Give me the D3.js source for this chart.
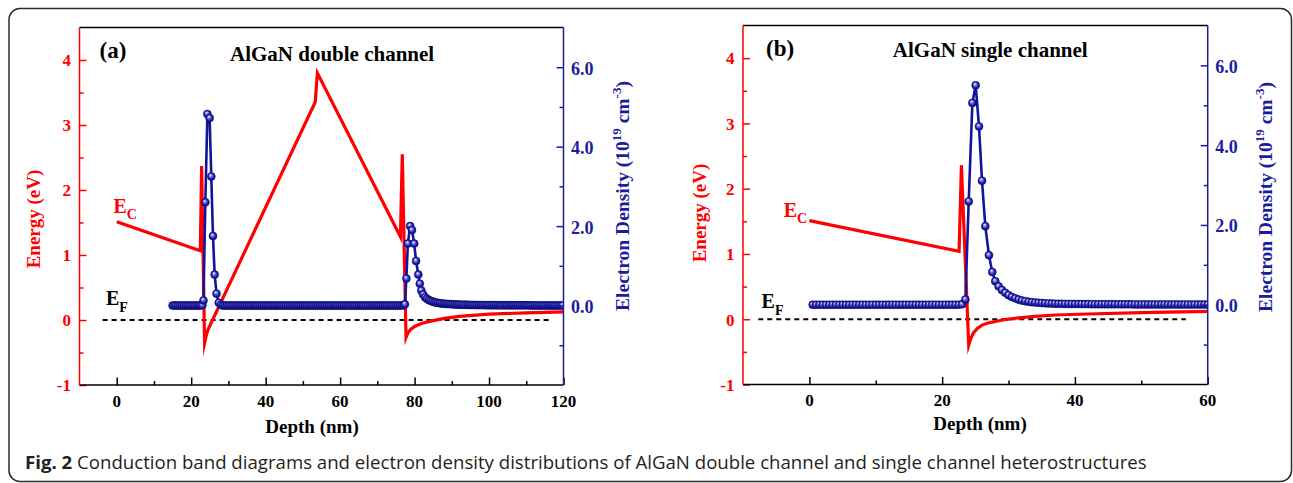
<!DOCTYPE html>
<html><head><meta charset="utf-8">
<script src="https://cdn.jsdelivr.net/npm/d3@7"></script>
<style>body{margin:0;background:#fff} svg{display:block}</style>
</head><body>
<svg id="c" width="1293" height="483"></svg>
<script>
// ---------------- DATA ----------------
const energyTicks = [-1, 0, 1, 2, 3, 4];
const energyMinor = [-0.5, 0.5, 1.5, 2.5, 3.5];
const densityTicks = [0, 2, 4, 6];
const densityTickLabels = ["0.0", "2.0", "4.0", "6.0"];
const densityMinor = [-1, 1, 3, 5];
const depthTicksA = [0, 20, 40, 60, 80, 100, 120];
const depthMinorA = [10, 30, 50, 70, 90, 110];
const depthTicksB = [0, 20, 40, 60];
const depthMinorB = [10, 30, 50];

// conduction band energy (eV) vs depth (nm)
const bandA = [[0,1.51],[22.45,1.065],[22.8,2.37],[23.6,-0.355],[24.0,-0.25],[24.5,-0.15],[53.3,3.35],[53.9,3.80],[76.2,1.28],[76.7,2.55],[77.7,-0.27],[78.2,-0.2],[79,-0.14],[80,-0.1],[82,-0.05],[85,-0.01],[88,0.025],[92,0.055],[100,0.09],[110,0.11],[120,0.125]];
const bandB = [[0,1.51],[22.55,1.04],[22.9,2.36],[24.0,-0.40],[24.3,-0.3],[24.7,-0.21],[25.3,-0.14],[26,-0.09],[27,-0.055],[28,-0.035],[29.5,-0.005],[31,0.015],[34,0.045],[37,0.065],[42,0.08],[50,0.1],[60,0.12]];

// Fermi level
const fermiA = [[-3.8,0],[116.1,0]];
const fermiB = [[-7.7,0],[56.7,0]];

// electron density (1e19 cm^-3) vs depth (nm)
const densityA = [[15,0],[15.5,0],[16,0],[16.5,0],[17,0],[17.5,0],[18,0],[18.5,0],[19,0],[19.5,0],[20,0],[20.5,0],[21,0],[21.5,0],[22,0],[22.5,0],[23,0.01],
[23.3,0.13],[23.8,2.6],[24.35,4.82],[24.95,4.72],[25.4,3.25],[25.85,1.75],[26.3,0.78],[26.8,0.30],[27.4,0.07],[28,0.02],
[28.5,0],[29,0],[29.5,0],[30,0],[30.5,0],[31,0],[31.5,0],[32,0],[32.5,0],[33,0],[33.5,0],[34,0],[34.5,0],[35,0],[35.5,0],[36,0],[36.5,0],[37,0],[37.5,0],[38,0],[38.5,0],[39,0],[39.5,0],[40,0],[40.5,0],[41,0],[41.5,0],[42,0],[42.5,0],[43,0],[43.5,0],[44,0],[44.5,0],[45,0],[45.5,0],[46,0],[46.5,0],[47,0],[47.5,0],[48,0],[48.5,0],[49,0],[49.5,0],[50,0],[50.5,0],[51,0],[51.5,0],[52,0],[52.5,0],[53,0],[53.5,0],[54,0],[54.5,0],[55,0],[55.5,0],[56,0],[56.5,0],[57,0],[57.5,0],[58,0],[58.5,0],[59,0],[59.5,0],[60,0],[60.5,0],[61,0],[61.5,0],[62,0],[62.5,0],[63,0],[63.5,0],[64,0],[64.5,0],[65,0],[65.5,0],[66,0],[66.5,0],[67,0],[67.5,0],[68,0],[68.5,0],[69,0],[69.5,0],[70,0],[70.5,0],[71,0],[71.5,0],[72,0],[72.5,0],[73,0],[73.5,0],[74,0],[74.5,0],[75,0],[75.5,0],[76,0],[76.5,0],[77,0.01],
[77.4,0.03],[77.8,0.68],[78.2,1.56],[78.8,2.0],[79.3,1.9],[79.9,1.56],[80.4,1.12],[81,0.78],[81.4,0.55],[81.8,0.38],[82.3,0.28],[82.8,0.21],[83.3,0.17],[83.8,0.14],[84.3,0.12],[84.8,0.1],[85.3,0.085],[85.8,0.075],[86.3,0.066],[86.8,0.058],[87.3,0.052],[87.8,0.047],[88.3,0.043],[88.8,0.04],[89.3,0.037],[89.8,0.034],[90.3,0.031],[90.8,0.029],[91.3,0.027],[91.8,0.025],[92.3,0.023],[92.8,0.022],[93.3,0.02],[93.8,0.019],[94.3,0.018],[94.8,0.017],[95.3,0.016],[95.8,0.015],[96.3,0.014],[96.8,0.013],[97.3,0.012],[97.8,0.012],[98.3,0.011],[98.8,0.011],[99.3,0.01],[99.8,0.01],[100.3,0.01],[100.8,0.009],[101.3,0.009],[101.8,0.009],[102.3,0.008],[102.8,0.008],[103.3,0.008],[103.8,0.007],[104.3,0.007],[104.8,0.007],[105.3,0.007],[105.8,0.006],[106.3,0.006],[106.8,0.006],[107.3,0.006],[107.8,0.006],[108.3,0.005],[108.8,0.005],[109.3,0.005],[109.8,0.005],[110.3,0.005],[110.8,0.005],[111.3,0.004],[111.8,0.004],[112.3,0.004],[112.8,0.004],[113.3,0.004],[113.8,0.004],[114.3,0.004],[114.8,0.004],[115.3,0.003],[115.8,0.003],[116.3,0.003],[116.8,0.003],[117.3,0.003],[117.8,0.003],[118.3,0.003],[118.8,0.003],[119.3,0.003],[119.8,0.003]];

const densityB = [[0.5,0],[1,0],[1.5,0],[2,0],[2.5,0],[3,0],[3.5,0],[4,0],[4.5,0],[5,0],[5.5,0],[6,0],[6.5,0],[7,0],[7.5,0],[8,0],[8.5,0],[9,0],[9.5,0],[10,0],[10.5,0],[11,0],[11.5,0],[12,0],[12.5,0],[13,0],[13.5,0],[14,0],[14.5,0],[15,0],[15.5,0],[16,0],[16.5,0],[17,0],[17.5,0],[18,0],[18.5,0],[19,0],[19.5,0],[20,0],[20.5,0],[21,0],[21.5,0],[22,0],[22.5,0],[23,0.01],
[23.5,0.13],[24,2.59],[24.55,5.06],[25.05,5.5],[25.55,4.47],[26,3.11],[26.5,1.97],[27.05,1.24],[27.55,0.82],[28,0.59],[28.5,0.46],[29,0.37],[29.5,0.3],[30,0.24],[30.5,0.195],[31,0.16],[31.5,0.13],[32,0.107],[32.5,0.09],[33,0.075],[33.5,0.064],[34,0.055],[34.5,0.048],[35,0.042],[35.5,0.037],[36,0.033],[36.5,0.03],[37,0.027],[37.5,0.025],[38,0.023],[38.5,0.021],[39,0.02],[39.5,0.019],[40,0.018],[40.5,0.017],[41,0.016],[41.5,0.015],[42,0.015],[42.5,0.014],[43,0.013],[43.5,0.013],[44,0.012],[44.5,0.012],[45,0.011],[45.5,0.011],[46,0.01],[46.5,0.01],[47,0.01],[47.5,0.009],[48,0.009],[48.5,0.009],[49,0.008],[49.5,0.008],[50,0.008],[50.5,0.008],[51,0.007],[51.5,0.007],[52,0.007],[52.5,0.007],[53,0.006],[53.5,0.006],[54,0.006],[54.5,0.006],[55,0.006],[55.5,0.005],[56,0.005],[56.5,0.005],[57,0.005],[57.5,0.005],[58,0.005],[58.5,0.005],[59,0.005],[59.5,0.005],[60,0.005]];

const titles = ["AlGaN double channel", "AlGaN single channel"];
const panelLabels = ["(a)", "(b)"];
const captionBold = "Fig. 2";
const captionText = " Conduction band diagrams and electron density distributions of AlGaN double channel and single channel heterostructures";

// ---------------- LAYOUT ----------------
const RED = "#ff0000", BLUE = "#1c1ca0", SERIF = "Liberation Serif, Times New Roman, serif";
const panels = [
  {left:79.5, right:563.5, top:27.5, bottom:385, xDomain:[-10,120], xTicks:depthTicksA, xMinor:depthMinorA,
   band:bandA, dens:densityA, fermi:fermiA, title:titles[0], label:panelLabels[0],
   labelX:99.5, labelY:58, titleX:230, titleY:61, ecX:113.5, ecY:213.3, efX:106, efY:305,
   yTitleX:40, yTitleY:219, y2TitleX:629, y2TitleY:196, xTitleX:312, xTitleY:433},
  {left:743, right:1207.7, top:25.5, bottom:384.5, xDomain:[-10,60], xTicks:depthTicksB, xMinor:depthMinorB,
   band:bandB, dens:densityB, fermi:fermiB, title:titles[1], label:panelLabels[1],
   labelX:766, labelY:56, titleX:892.8, titleY:56.5, ecX:783.7, ecY:216.7, efX:761.6, efY:308.3,
   yTitleX:705.5, yTitleY:213, y2TitleX:1272, y2TitleY:197, xTitleX:980, xTitleY:430}
];

const svg = d3.select("#c");
const defs = svg.append("defs");
const grad = defs.append("radialGradient").attr("id","ball").attr("cx","0.5").attr("cy","0.5").attr("r","0.5").attr("fx","0.38").attr("fy","0.3");
grad.append("stop").attr("offset","0").attr("stop-color","#ffffff");
grad.append("stop").attr("offset","0.3").attr("stop-color","#8c8ce6");
grad.append("stop").attr("offset","0.7").attr("stop-color","#1e1eb0");
grad.append("stop").attr("offset","1").attr("stop-color","#08086e");

// frame
svg.append("rect").attr("x",9).attr("y",8.5).attr("width",1282.5).attr("height",473).attr("rx",11)
  .attr("fill","none").attr("stroke","#2b2b2b").attr("stroke-width",1.5);

panels.forEach((p, i) => {
  const x = d3.scaleLinear().domain(p.xDomain).range([p.left, p.right]);
  const y = d3.scaleLinear().domain([-1, 4.5]).range([p.bottom, p.top]);
  const y2 = d3.scaleLinear().domain([-2, 7]).range([p.bottom, p.top]);
  const g = svg.append("g");

  const clipId = "clip" + i;
  defs.append("clipPath").attr("id", clipId).append("rect")
    .attr("x", p.left).attr("y", p.top).attr("width", p.right - p.left).attr("height", p.bottom - p.top);

  const plot = g.append("g").attr("clip-path", `url(#${clipId})`);
  const line = d3.line().x(d => x(d[0])).y(d => y(d[1]));
  const line2 = d3.line().x(d => x(d[0])).y(d => y2(d[1]));

  plot.append("path").datum(p.fermi).attr("d", line).attr("fill","none").attr("stroke","#000")
    .attr("stroke-width",2.2).attr("stroke-dasharray","5,4");
  plot.append("path").datum(p.band).attr("d", line).attr("fill","none").attr("stroke",RED)
    .attr("stroke-width",3.2).attr("stroke-linejoin","miter").attr("stroke-miterlimit",10);
  plot.append("path").datum(p.dens).attr("d", line2).attr("fill","none").attr("stroke","#14149a")
    .attr("stroke-width",2.6);
  plot.selectAll("circle").data(p.dens).join("circle")
    .attr("cx", d => x(d[0])).attr("cy", d => y2(d[1])).attr("r", 4)
    .attr("fill","url(#ball)").attr("stroke","#10107a").attr("stroke-width",0.5);

  // axes (tick marks via d3 axes)
  const styleAxis = (sel, color) => {
    sel.select(".domain").remove();
    sel.selectAll(".tick line").attr("stroke", color).attr("stroke-width", 1.5);
    sel.selectAll(".tick text").remove();
  };
  const ax = (gen, tr, vals, size, color) => {
    const s = g.append("g").attr("transform", tr)
      .call(gen.tickValues(vals).tickSize(size).tickSizeOuter(0).tickFormat(""));
    styleAxis(s, color);
  };
  ax(d3.axisBottom(x), `translate(0,${p.bottom})`, p.xTicks, -7.5, "#000");
  ax(d3.axisBottom(x), `translate(0,${p.bottom})`, p.xMinor, -4, "#000");
  ax(d3.axisLeft(y), `translate(${p.left},0)`, energyTicks, -7, RED);
  ax(d3.axisLeft(y), `translate(${p.left},0)`, energyMinor, -4, RED);
  ax(d3.axisRight(y2), `translate(${p.right},0)`, densityTicks, -7, BLUE);
  ax(d3.axisRight(y2), `translate(${p.right},0)`, densityMinor, -4, BLUE);

  // tick labels
  const lab = (sel, color, fs) => sel.attr("fill", color).attr("font-family", SERIF)
    .attr("font-weight", "bold").attr("font-size", fs);
  lab(g.append("g").selectAll("text").data(p.xTicks).join("text")
    .attr("x", d => x(d)).attr("y", p.bottom + 21.5).attr("text-anchor","middle").text(d => d), "#000", 17);
  lab(g.append("g").selectAll("text").data(energyTicks).join("text")
    .attr("x", p.left - 8.5).attr("y", d => y(d) + 6.3).attr("text-anchor","end").text(d => d), RED, 17);
  lab(g.append("g").selectAll("text").data(densityTicks).join("text")
    .attr("x", p.right + 7.5).attr("y", d => y2(d) + 7.5).attr("text-anchor","start")
    .text((d, k) => densityTickLabels[k]), BLUE, 18);

  // frame lines
  g.append("line").attr("x1",p.left).attr("x2",p.right).attr("y1",p.top).attr("y2",p.top).attr("stroke","#000").attr("stroke-width",1.5);
  g.append("line").attr("x1",p.left).attr("x2",p.right).attr("y1",p.bottom).attr("y2",p.bottom).attr("stroke","#000").attr("stroke-width",1.5);
  g.append("line").attr("x1",p.left).attr("x2",p.left).attr("y1",p.top).attr("y2",p.bottom).attr("stroke",RED).attr("stroke-width",1.5);
  g.append("line").attr("x1",p.right).attr("x2",p.right).attr("y1",p.top).attr("y2",p.bottom).attr("stroke",BLUE).attr("stroke-width",1.5);

  // texts
  const T = (xx, yy, s, fs, color) => g.append("text").attr("x",xx).attr("y",yy).text(s)
    .attr("font-family",SERIF).attr("font-weight","bold").attr("font-size",fs).attr("fill",color);
  T(p.labelX, p.labelY, p.label, 23, "#000");
  T(p.titleX, p.titleY, p.title, 21, "#000");

  const ec = T(p.ecX, p.ecY, "E", 20, RED);
  ec.append("tspan").attr("font-size",14).attr("dy",6).text("C");
  const ef = T(p.efX, p.efY, "E", 20, "#000");
  ef.append("tspan").attr("font-size",14).attr("dy",6.5).text("F");

  // axis titles
  g.append("text").attr("transform",`translate(${p.xTitleX},${p.xTitleY})`).attr("text-anchor","middle")
    .attr("font-family",SERIF).attr("font-weight","bold").attr("font-size",19).attr("fill","#000").text("Depth (nm)");
  g.append("text").attr("transform",`translate(${p.yTitleX},${p.yTitleY}) rotate(-90)`).attr("text-anchor","middle")
    .attr("font-family",SERIF).attr("font-weight","bold").attr("font-size",19).attr("fill",RED).text("Energy (eV)");
  const t2 = g.append("text").attr("transform",`translate(${p.y2TitleX},${p.y2TitleY}) rotate(-90)`).attr("text-anchor","middle")
    .attr("font-family",SERIF).attr("font-weight","bold").attr("font-size",19.5).attr("fill",BLUE);
  t2.append("tspan").text("Electron Density (10");
  t2.append("tspan").attr("font-size",13).attr("dy",-8).text("19");
  t2.append("tspan").attr("dy",8).text(" cm");
  t2.append("tspan").attr("font-size",13).attr("dy",-8).text("-3");
  t2.append("tspan").attr("dy",8).text(")");
});

// caption
const cap = svg.append("text").attr("x",25).attr("y",469).attr("font-family","Open Sans, Noto Sans, sans-serif")
  .attr("font-size",17).attr("fill","#231f20");
cap.append("tspan").attr("font-weight","bold").text(captionBold);
cap.append("tspan").text(captionText);
const len = cap.node().getComputedTextLength();
cap.attr("font-size", 17 * 1122 / len);
</script>
</body></html>
